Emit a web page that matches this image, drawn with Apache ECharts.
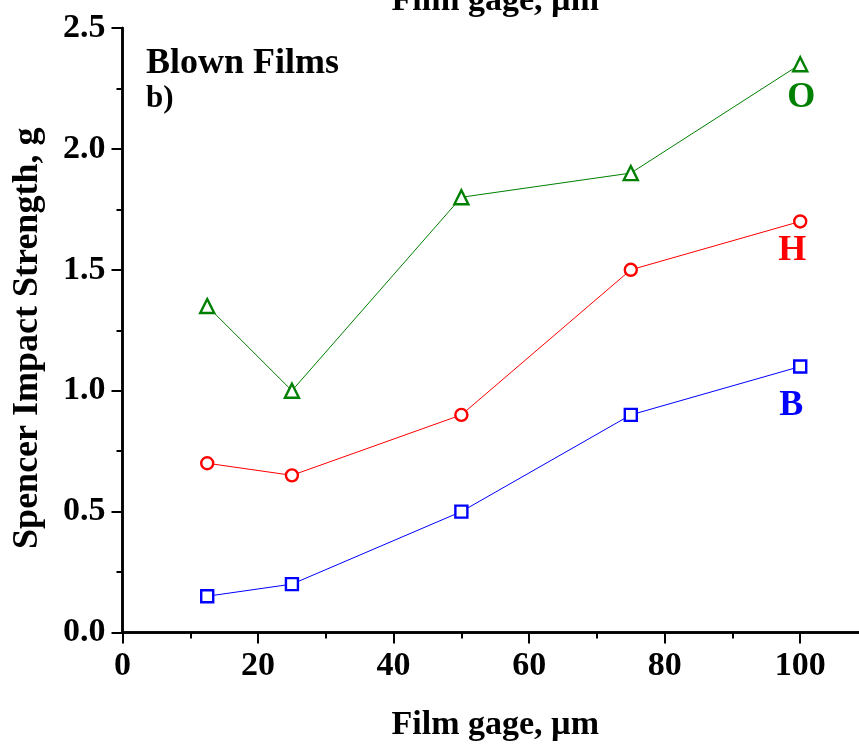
<!DOCTYPE html>
<html>
<head>
<meta charset="utf-8">
<script src="https://cdn.jsdelivr.net/npm/echarts@6/dist/echarts.min.js"></script>
<style>
html,body{margin:0;padding:0;background:#fff;}
#c{width:859px;height:747px;}
</style>
</head>
<body>
<div id="c"></div>
<script>
// Data
const gage = [12.5, 25, 50, 75, 100];
const seriesB = [0.15, 0.2, 0.5, 0.9, 1.1];
const seriesH = [0.7, 0.65, 0.9, 1.5, 1.7];
const seriesO = [1.35, 1.0, 1.8, 1.9, 2.35];
const seriesNames = ['B', 'H', 'O'];
const xTitle = 'Film gage, \u00b5m';
const yTitle = 'Spencer Impact Strength, g';

const FONT = '"Liberation Serif", "Times New Roman", serif';

function pts(vals) { return gage.map((g, i) => [g, vals[i]]); }

function makeSeries(name, vals, color, symbol, size, labelOffset) {
  const data = pts(vals).map((p, i) => {
    if (i === vals.length - 1) {
      return {
        value: p,
        label: {
          show: true, position: 'inside', offset: labelOffset,
          formatter: name, color: color, fontFamily: FONT, fontWeight: 'bold', fontSize: 36
        }
      };
    }
    return { value: p };
  });
  return {
    name: name, type: 'line', data: data,
    symbol: symbol, symbolSize: size,
    lineStyle: { color: color, width: 1 },
    itemStyle: { color: '#fff', borderColor: color, borderWidth: 2.4 },
    label: { show: false },
    z: 3
  };
}

const axisCommon = {
  type: 'value', min: 0, max: 110, interval: 20,
  splitLine: { show: false },
  axisLine: { show: true, lineStyle: { color: '#000', width: 2.5 } }
};

const chart = echarts.init(document.getElementById('c'));
chart.setOption({
  animation: false,
  backgroundColor: '#fff',
  grid: { left: 122.5, right: -9, top: 28, bottom: 114.5, containLabel: false, outerBoundsMode: 'none' },
  xAxis: [
    Object.assign({}, axisCommon, {
      position: 'bottom',
      name: xTitle, nameLocation: 'middle', nameGap: 76,
      nameTextStyle: { fontFamily: FONT, fontWeight: 'bold', fontSize: 34, color: '#000' },
      axisTick: { show: true, inside: false, length: 11, lineStyle: { color: '#000', width: 2 } },
      minorTick: { show: true, splitNumber: 2, length: 6, lineStyle: { color: '#000', width: 2 } },
      axisLabel: {
        fontFamily: FONT, fontWeight: 'bold', fontSize: 34, color: '#000', margin: 17,
        formatter: v => (v % 20 === 0 ? String(v) : '')
      }
    }),
    Object.assign({}, axisCommon, {
      position: 'top',
      name: xTitle, nameLocation: 'middle', nameGap: 10,
      nameTextStyle: { fontFamily: FONT, fontWeight: 'bold', fontSize: 34, color: '#000' },
      axisTick: { show: true, inside: true, length: 11, lineStyle: { color: '#000', width: 2 } },
      minorTick: { show: true, splitNumber: 2, length: 6, lineStyle: { color: '#000', width: 2 } },
      axisLabel: { show: false }
    })
  ],
  yAxis: [
    {
      type: 'value', min: 0, max: 2.5, interval: 0.5, position: 'left',
      splitLine: { show: false },
      axisLine: { show: true, lineStyle: { color: '#000', width: 2.5 } },
      name: yTitle, nameLocation: 'middle', nameGap: 77,
      nameTextStyle: { fontFamily: FONT, fontWeight: 'bold', fontSize: 36, color: '#000', padding: [0, 16, 0, 0] },
      axisTick: { show: true, inside: false, length: 11, lineStyle: { color: '#000', width: 2 } },
      minorTick: { show: true, splitNumber: 2, length: 6, lineStyle: { color: '#000', width: 2 } },
      axisLabel: {
        fontFamily: FONT, fontWeight: 'bold', fontSize: 34, color: '#000', margin: 17,
        formatter: v => v.toFixed(1)
      }
    },
    {
      type: 'value', min: 0, max: 2.5, interval: 0.5, position: 'right',
      splitLine: { show: false },
      axisLine: { show: true, lineStyle: { color: '#000', width: 2.5 } },
      axisTick: { show: true, inside: true, length: 11, lineStyle: { color: '#000', width: 2 } },
      axisLabel: { show: false }
    }
  ],
  graphic: [
    { type: 'text', left: 146, top: 46, style: { text: 'Blown Films', fontFamily: FONT, fontWeight: 'bold', fontSize: 36, fill: '#000' } },
    { type: 'text', left: 146, top: 83, style: { text: 'b)', fontFamily: FONT, fontWeight: 'bold', fontSize: 31, fill: '#000' } }
  ],
  series: [
    makeSeries(seriesNames[0], seriesB, '#0000ff', 'rect', 12, [-9, 39]),
    makeSeries(seriesNames[1], seriesH, '#ff0000', 'circle', 12, [-8, 29]),
    makeSeries(seriesNames[2], seriesO, '#008000', 'triangle', 14, [1, 33])
  ]
});
</script>
</body>
</html>
